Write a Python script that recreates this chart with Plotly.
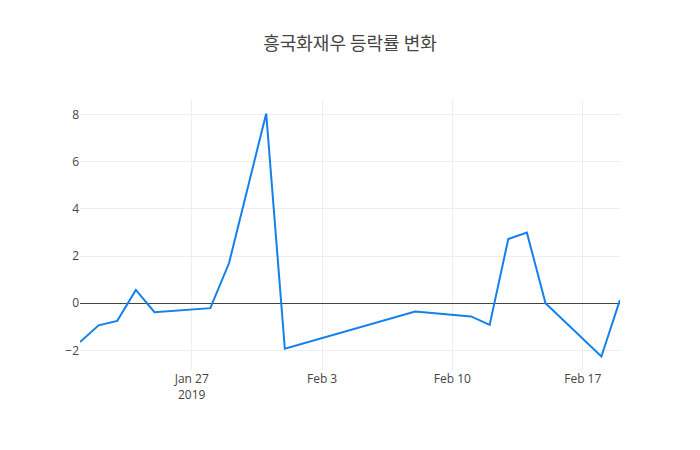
import plotly.graph_objects as go

dates = ["2019-01-21", "2019-01-22", "2019-01-23", "2019-01-24", "2019-01-25",
         "2019-01-28", "2019-01-29", "2019-01-31", "2019-02-01", "2019-02-08",
         "2019-02-11", "2019-02-12", "2019-02-13", "2019-02-14", "2019-02-15",
         "2019-02-18", "2019-02-19"]
values = [-1.65, -0.94, -0.75, 0.56, -0.38,
          -0.21, 1.69, 8.04, -1.93, -0.35,
          -0.56, -0.92, 2.72, 2.99, 0.0,
          -2.26, 0.14]

title_text = "흥국화재우 등락률 변화"

fig = go.Figure()
fig.add_trace(go.Scatter(x=dates, y=values, mode="lines",
                         line=dict(color="#1380ec", width=2)))
fig.update_layout(
    template="none",
    width=700, height=450,
    title=dict(text=title_text, x=0.5, xanchor="center",
               font=dict(family="Noto Sans CJK KR, Open Sans", size=18, color="#444")),
    font=dict(family="Open Sans, Noto Sans CJK KR", size=12, color="#444"),
    margin=dict(l=80, r=80, t=100, b=80),
    paper_bgcolor="white", plot_bgcolor="white",
    showlegend=False,
    xaxis=dict(showgrid=True, gridcolor="#eee", zeroline=False, showline=False,
               ticks="", dtick=7*24*3600*1000, tick0="2019-01-27"),
    yaxis=dict(showgrid=True, gridcolor="#eee", zeroline=True, zerolinecolor="#444",
               zerolinewidth=1, showline=False, ticks=""),
)
fig.write_html("out.html")
